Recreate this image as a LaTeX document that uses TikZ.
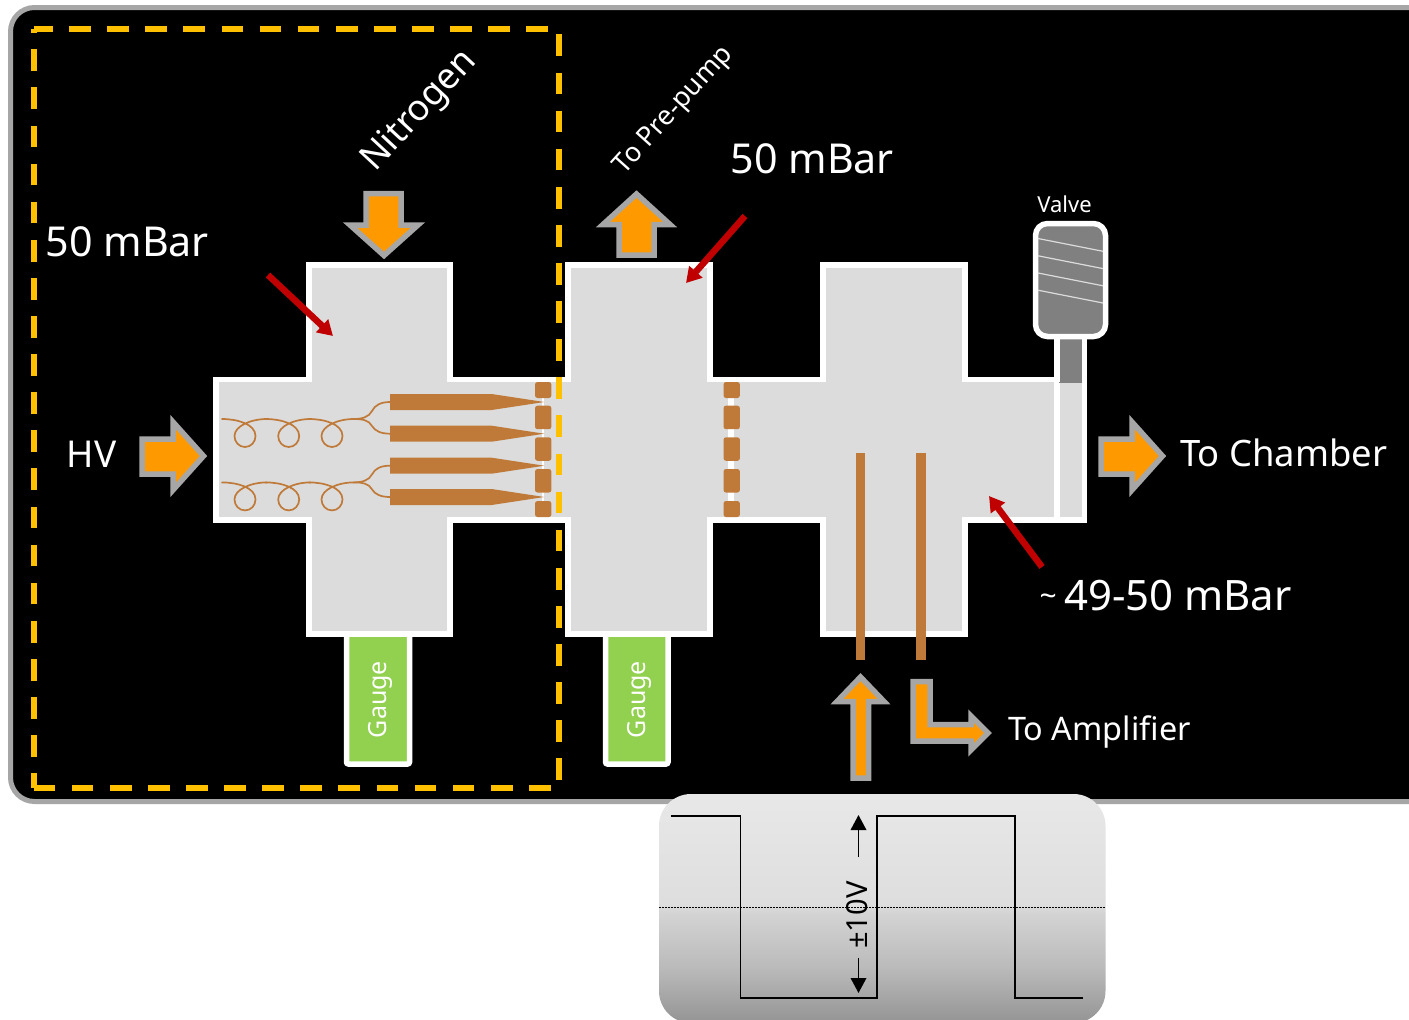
\documentclass[tikz,border=0pt]{standalone}
\usepackage{fontspec}
\usepackage{xcolor}
\usetikzlibrary{arrows.meta}
\setmainfont{Noto Sans}
\definecolor{chambergray}{HTML}{DCDCDC}
\definecolor{copper}{HTML}{BF7A3A}
\definecolor{flow}{HTML}{FF9900}
\definecolor{flowedge}{HTML}{A6A6A6}
\definecolor{nitrogenbox}{HTML}{FFC000}
\definecolor{gaugegreen}{HTML}{92D050}
\definecolor{pressurered}{HTML}{C00000}
\definecolor{valvegray}{HTML}{808080}
\pgfdeclareverticalshading{panelfade}{100bp}{
  color(0bp)=(black!42); color(25bp)=(black!42); color(37bp)=(black!27);
  color(49bp)=(black!17); color(51bp)=(black!13); color(75bp)=(black!9); color(100bp)=(black!9)}

\tikzset{
  whitewall/.style={draw=white, line width=5.5pt, miter limit=10},
  flowarrow/.style={draw=flowedge, fill=flow, line width=5.5pt, miter limit=10},
  gaugebox/.style={draw=white, fill=gaugegreen, line width=5.5pt, rounded corners=2pt},
  labeltext/.style={text=white, inner sep=0pt, font=\fontsize{#1}{#1}\selectfont},
  pressurearrow/.style={pressurered, line width=6.5pt, -{Triangle[length=15pt,width=17pt]}},
  swingarrow/.style={line width=1.9pt, -{Triangle[length=15pt,width=15.5pt]}},
  gridblock/.style={fill=copper, rounded corners=2.5pt},
  fibre/.style={draw=copper, line width=1.7pt, line cap=round},
  nitrogenline/.style={draw=nitrogenbox, line width=5.3pt}
}

\begin{document}
\begin{tikzpicture}[x=1pt, y=-1pt]
  \clip (0,0) rectangle (1409,1020);
  \fill[white] (0,0) rectangle (1409,1020);

  % black housing
  \draw[draw=flowedge, fill=black, line width=5pt, rounded corners=24pt]
    (10.5,7.5) rectangle (1440,801.5);

  % gauges
  \draw[gaugebox] (346.5,625) rectangle (409.5,764);
  \draw[gaugebox] (605.5,625) rectangle (668,764);
  \node[labeltext=25, rotate=90] (gaugeleft) at (380.5,699.5) {Gauge};
  \node[labeltext=25, rotate=90] (gaugeright) at (639.5,699.5) {Gauge};

  % vacuum chambers
  \draw[whitewall, fill=chambergray]
    (216,379.5) -- (309,379.5) -- (309,265) -- (450,265) -- (450,379.5)
    -- (568,379.5) -- (568,265) -- (710,265) -- (710,379.5)
    -- (823,379.5) -- (823,265) -- (965,265) -- (965,379.5) -- (1084.5,379.5)
    -- (1084.5,520) -- (965,520) -- (965,634) -- (823,634) -- (823,520)
    -- (710,520) -- (710,634) -- (568,634) -- (568,520)
    -- (450,520) -- (450,634) -- (309,634) -- (309,520) -- (216,520) -- cycle;
  \fill[chambergray] (565,382.2) rectangle (571,517.3);
  \fill[chambergray] (707,382.2) rectangle (713,517.3);
  \draw[whitewall] (1057,379.5) -- (1057,520);

  % valve
  \fill[valvegray] (1059,336) rectangle (1082,383);
  \draw[whitewall] (1057,338) -- (1057,382);
  \draw[whitewall] (1084.5,338) -- (1084.5,382);
  \draw[draw=white, fill=valvegray, line width=5.5pt, rounded corners=12pt]
    (1035.5,223.5) rectangle (1105.5,336.5);
  \foreach \ythread in {238.5,255.8,273,290.2}
    \draw[chambergray, line width=1.2pt] (1038,\ythread) -- (1103,\ythread+12.8);
  \node[labeltext=22] (valvelabel) at (1064.5,204) {Valve};

  % nitrogen region
  \draw[nitrogenline, dash pattern=on 21.7pt off 16.4pt, dash phase=3pt]
    (34,29) -- (559,29) -- (559,788) -- (34,788);
  \draw[nitrogenline, dash pattern=on 21.7pt off 16.4pt, dash phase=6.9pt]
    (34,788) -- (34,29);

  % extraction grids
  \draw[white, line width=2.6pt] (543,382) -- (543,517);
  \draw[white, line width=5.5pt] (731,382) -- (731,517);
  \foreach \xgrid in {535,723.5} {
    \fill[gridblock] (\xgrid,382) rectangle +(16.4,16);
    \fill[gridblock] (\xgrid,405.7) rectangle +(16.4,23.5);
    \fill[gridblock] (\xgrid,437.3) rectangle +(16.4,23.5);
    \fill[gridblock] (\xgrid,469) rectangle +(16.4,23.5);
    \fill[gridblock] (\xgrid,501) rectangle +(16.4,16);
  }

  % capillaries with coiled feed
  \foreach \ytip in {402,433.7,465.7,497}
    \fill[copper] (390,\ytip-8) -- (491.7,\ytip-8) -- (544.3,\ytip)
      -- (491.7,\ytip+8) -- (390,\ytip+8) -- cycle;
  \foreach \yrow/\ytop/\ybot in {419/402/433.7,482.4/465.7/497} {
    \foreach \xloop in {245,288.7,332}
      \draw[fibre] (\xloop-23,\yrow) .. controls (\xloop-8,\yrow) and (\xloop+10.5,\yrow+5) .. (\xloop+10.5,\yrow+17)
        .. controls (\xloop+10.5,\yrow+23) and (\xloop+6,\yrow+28) .. (\xloop,\yrow+28)
        .. controls (\xloop-6,\yrow+28) and (\xloop-10.5,\yrow+23) .. (\xloop-10.5,\yrow+17)
        .. controls (\xloop-10.5,\yrow+7) and (\xloop+6,\yrow) .. (\xloop+21.8,\yrow);
    \draw[fibre] (353.8,\yrow) .. controls (362,\yrow) and (369,\yrow-2) .. (372,\yrow-8)
      .. controls (375,\yrow-14) and (381,\ytop) .. (390,\ytop);
    \draw[fibre] (353.8,\yrow) .. controls (362,\yrow) and (369,\yrow+1) .. (372,\yrow+7)
      .. controls (375,\yrow+12) and (381,\ybot) .. (390,\ybot);
  }

  % pulse and readout electrodes
  \fill[copper] (855.7,453) rectangle (865.3,660);
  \fill[copper] (916.3,453) rectangle (926,660);

  % flow arrows
  \draw[flowarrow] (366,193.5) -- (401,193.5) -- (401,225) -- (418,225) -- (384,255.5) -- (350,225) -- (366,225) -- cycle;
  \draw[flowarrow] (619,255) -- (654,255) -- (654,224.5) -- (670,224.5) -- (636.5,194) -- (603,224.5) -- (619,224.5) -- cycle;
  \draw[flowarrow] (142,439) -- (173,439) -- (173,422) -- (203.5,456) -- (173,490) -- (173,474) -- (142,474) -- cycle;
  \draw[flowarrow] (1101,439) -- (1132,439) -- (1132,422) -- (1162.5,456) -- (1132,490) -- (1132,474) -- (1101,474) -- cycle;
  \draw[flowarrow] (853,778) -- (868.5,778) -- (868.5,701.5) -- (884,701.5) -- (860.5,677) -- (837,701.5) -- (853,701.5) -- cycle;
  \draw[flowarrow] (913,681.5) -- (930,681.5) -- (930,724.5) -- (971,724.5) -- (971,716) -- (988,733) -- (971,750) -- (971,741) -- (913,741) -- cycle;

  % pressure labels
  \node[labeltext=41.2, anchor=west] (pressureleft) at (45.5,242) {50 mBar};
  \node[labeltext=41.2, anchor=west] (pressuremid) at (730.5,159) {50 mBar};
  \node[labeltext=41.9, anchor=west] (pressureright) at (1064,596) {49-50 mBar};
  \node[labeltext=30, anchor=east] (pressuretilde) at (1057,600) {\raisebox{-3pt}{\textasciitilde}};
  \coordinate (leftstart) at (268,275);
  \coordinate (lefttip) at (333,336);
  \coordinate (midstart) at (745,216);
  \coordinate (midtip) at (686,283);
  \coordinate (rightstart) at (1042,567);
  \coordinate (righttip) at (989,496);
  \draw[pressurearrow] (leftstart) -- (lefttip);
  \draw[pressurearrow] (midstart) -- (midtip);
  \draw[pressurearrow] (rightstart) -- (righttip);

  % flow labels
  \node[labeltext=37, anchor=west] (hvlabel) at (66.5,454) {HV};
  \node[labeltext=36, rotate=47] (nitrogenlabel) at (420,111) {Nitrogen};
  \node[labeltext=27, rotate=48] (prepumplabel) at (674,111) {To Pre-pump};
  \node[labeltext=36.4, anchor=west] (chamberlabel) at (1180,453) {To Chamber};
  \node[labeltext=32.4, anchor=west] (amplifierlabel) at (1008,731.5) {To Amplifier};

  % pulse scope panel
  \shade[shading=panelfade, rounded corners=32pt]
    (659,794) rectangle (1105.5,1023);
  \draw[black, line width=1.5pt, dash pattern=on 1.5pt off 1.5pt] (659,907.7) -- (1105.5,907.7);
  \draw[black, line width=1.7pt]
    (671,816) -- (740.5,816) -- (740.5,998.3) -- (877.3,998.3) -- (877.3,816)
    -- (1014.7,816) -- (1014.7,998.3) -- (1083,998.3);
  \node[inner sep=0pt, rotate=90, font=\fontsize{29}{29}\selectfont] (swinglabel) at (857,915) {±10V};
  \coordinate (swingtop) at (858.5,815);
  \coordinate (swingtopstart) at (858.5,857);
  \coordinate (swingbottom) at (858.5,993);
  \coordinate (swingbottomstart) at (858.5,958);
  \draw[swingarrow] (swingtopstart) -- (swingtop);
  \draw[swingarrow] (swingbottomstart) -- (swingbottom);
\end{tikzpicture}
\end{document}
